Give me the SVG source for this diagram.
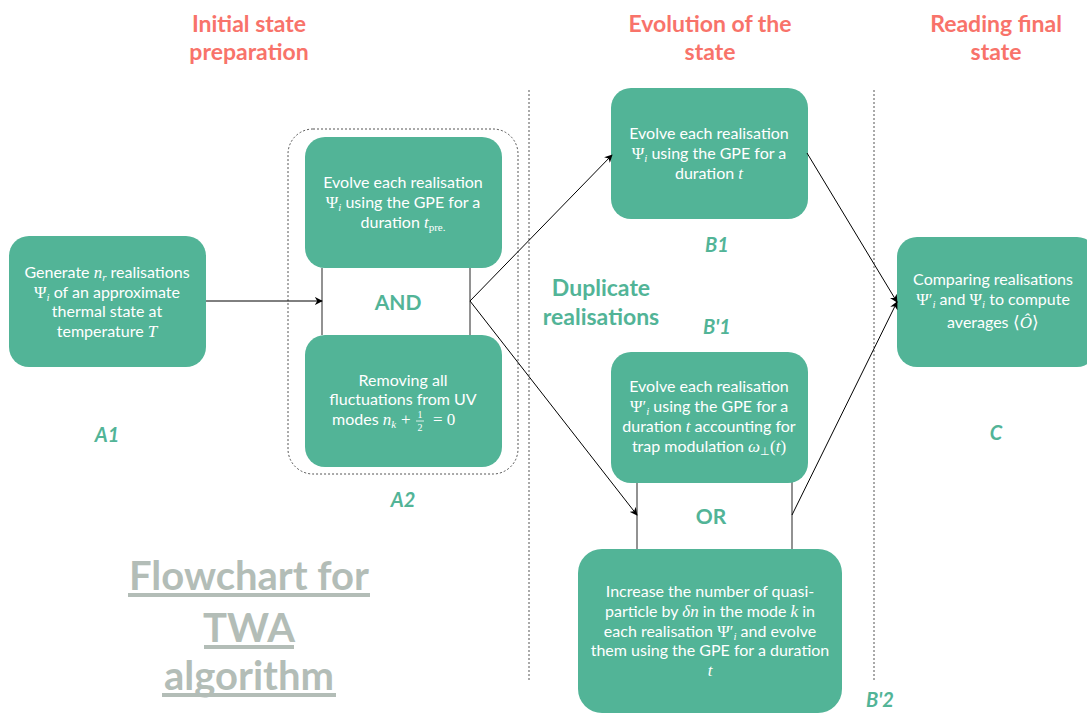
<svg xmlns="http://www.w3.org/2000/svg" width="1087" height="713" viewBox="0 0 1087 713">
<style>
.box{fill:#52B497;}
.bt{font-family:Lato,"Open Sans",sans-serif;font-size:16px;fill:#fff;text-anchor:middle;}
.bs{font-family:Lato,"Open Sans",sans-serif;font-size:16px;fill:#fff;}
.m{font-family:"Liberation Serif",serif;font-style:italic;font-size:17px;}
.mu{font-family:"Liberation Serif",serif;font-style:normal;font-size:17px;}
.sub{font-size:11px;}
.hdr{font-family:Lato,"Open Sans",sans-serif;font-weight:bold;font-size:23px;fill:#F8736A;text-anchor:middle;}
.lbl{font-family:Lato,"Open Sans",sans-serif;font-weight:bold;font-style:italic;font-size:20px;fill:#52B497;text-anchor:middle;}
.op{font-family:Lato,"Open Sans",sans-serif;font-weight:bold;font-size:21px;fill:#52B497;text-anchor:middle;}
.ttl{font-family:Lato,"Open Sans",sans-serif;font-weight:bold;font-size:40px;fill:#B3BDB7;text-anchor:middle;}
.sep{stroke:#555;stroke-width:1;stroke-dasharray:2,2;fill:none;}
.con{stroke:#000;stroke-width:1;fill:none;}
.bar{stroke:#777;stroke-width:1.6;}
</style>
<defs>
<marker id="ah" viewBox="0 0 10 10" refX="9" refY="5" markerWidth="8" markerHeight="8" orient="auto" markerUnits="userSpaceOnUse">
<path d="M0,0 L10,5 L0,10 L3,5 z" fill="#000"/>
</marker>
</defs>

<!-- headers -->
<g id="headers">
<text class="hdr" x="249" y="32">Initial state</text>
<text class="hdr" x="249" y="60">preparation</text>
<text class="hdr" x="710" y="32">Evolution of the</text>
<text class="hdr" x="710" y="60">state</text>
<text class="hdr" x="996" y="32">Reading final</text>
<text class="hdr" x="996" y="60">state</text>
</g>

<!-- separators -->
<g id="separators">
<line class="sep" x1="529" y1="90" x2="529" y2="680"/>
<line class="sep" x1="874" y1="90" x2="874" y2="680"/>
</g>

<!-- A1 -->
<g id="A1">
<rect class="box" x="9" y="236" width="197" height="131" rx="20"/>
<text class="bt" x="107" y="278">Generate <tspan class="m">n</tspan><tspan class="m sub" dy="3">r</tspan><tspan dy="-3"> realisations</tspan></text>
<text class="bt" x="107" y="298"><tspan class="mu">Ψ</tspan><tspan class="m sub" dy="3">i</tspan><tspan dy="-3"> of an approximate</tspan></text>
<text class="bt" x="107" y="317">thermal state at</text>
<text class="bt" x="107" y="337">temperature <tspan class="m">T</tspan></text>
<text class="lbl" x="107" y="442">A1</text>
</g>

<!-- A2 -->
<g id="A2">
<rect x="288" y="129" width="230" height="345" rx="25" class="sep"/>
<line class="bar" x1="322" y1="268" x2="322" y2="335"/>
<line class="bar" x1="470" y1="268" x2="470" y2="335"/>
<text class="op" x="398" y="310">AND</text>
<rect class="box" x="305" y="137" width="197" height="131" rx="20"/>
<text class="bt" x="403" y="188">Evolve each realisation</text>
<text class="bt" x="403" y="208"><tspan class="mu">Ψ</tspan><tspan class="m sub" dy="3">i</tspan><tspan dy="-3"> using the GPE for a</tspan></text>
<text class="bt" x="403" y="228">duration <tspan class="m">t</tspan><tspan class="mu sub" dy="3">pre.</tspan></text>
<rect class="box" x="305" y="335" width="197" height="132" rx="20"/>
<text class="bt" x="403" y="386">Removing all</text>
<text class="bt" x="403" y="405">fluctuations from UV</text>
<text class="bs" x="332" y="425">modes <tspan class="m">n</tspan><tspan class="m sub" dy="3">k</tspan></text>
<text class="bs" x="401" y="425"><tspan class="mu">+</tspan></text>
<text class="bs" x="420" y="418" text-anchor="middle"><tspan class="mu" style="font-size:10px">1</tspan></text>
<text class="bs" x="420" y="431" text-anchor="middle"><tspan class="mu" style="font-size:10px">2</tspan></text>
<line x1="416" y1="421" x2="424" y2="421" stroke="#fff" stroke-width="0.8"/>
<text class="bs" x="433" y="425"><tspan class="mu">= 0</tspan></text>
<text class="lbl" x="403" y="507">A2</text>
</g>

<!-- Duplicate realisations -->
<g id="duplicate">
<text class="op" x="601" y="296" style="font-size:23px">Duplicate</text>
<text class="op" x="601" y="325" style="font-size:23px">realisations</text>
</g>

<!-- B1 -->
<g id="B1">
<rect class="box" x="611" y="88" width="197" height="131" rx="20"/>
<text class="bt" x="709" y="139">Evolve each realisation</text>
<text class="bt" x="709" y="159"><tspan class="mu">Ψ</tspan><tspan class="m sub" dy="3">i</tspan><tspan dy="-3"> using the GPE for a</tspan></text>
<text class="bt" x="709" y="179">duration <tspan class="m">t</tspan></text>
<text class="lbl" x="717" y="252">B1</text>
</g>

<!-- B'1 -->
<g id="Bp1">
<text class="lbl" x="717" y="334">B'1</text>
<line class="bar" x1="637" y1="482" x2="637" y2="549"/>
<line class="bar" x1="792" y1="482" x2="792" y2="549"/>
<text class="op" x="711" y="524">OR</text>
<rect class="box" x="611" y="352" width="197" height="131" rx="20"/>
<text class="bt" x="709" y="392">Evolve each realisation</text>
<text class="bt" x="709" y="412"><tspan class="mu">Ψ′</tspan><tspan class="m sub" dy="3">i</tspan><tspan dy="-3"> using the GPE for a</tspan></text>
<text class="bt" x="709" y="432">duration <tspan class="m">t</tspan> accounting for</text>
<text class="bt" x="709" y="452">trap modulation <tspan class="m">ω</tspan><tspan class="mu sub" dy="3">⊥</tspan><tspan class="mu" dy="-3">(</tspan><tspan class="m">t</tspan><tspan class="mu">)</tspan></text>
</g>

<!-- B'2 -->
<g id="Bp2">
<rect class="box" x="578" y="549" width="264" height="164" rx="24"/>
<text class="bt" x="710" y="597">Increase the number of quasi-</text>
<text class="bt" x="710" y="617">particle by <tspan class="m">δn</tspan> in the mode <tspan class="m">k</tspan> in</text>
<text class="bt" x="710" y="637">each realisation <tspan class="mu">Ψ′</tspan><tspan class="m sub" dy="3">i</tspan><tspan dy="-3"> and evolve</tspan></text>
<text class="bt" x="710" y="656">them using the GPE for a duration</text>
<text class="bt" x="710" y="676"><tspan class="m">t</tspan></text>
<text class="lbl" x="880" y="707">B'2</text>
</g>

<!-- C -->
<g id="C">
<rect class="box" x="897" y="237" width="200" height="130" rx="20"/>
<text class="bt" x="993" y="285">Comparing realisations</text>
<text class="bt" x="993" y="305"><tspan class="mu">Ψ′</tspan><tspan class="m sub" dy="3">i</tspan><tspan dy="-3"> and </tspan><tspan class="mu">Ψ</tspan><tspan class="m sub" dy="3">i</tspan><tspan dy="-3"> to compute</tspan></text>
<text class="bt" x="993" y="328">averages <tspan class="mu">⟨</tspan><tspan class="m">Ô</tspan><tspan class="mu">⟩</tspan></text>
<text class="lbl" x="996" y="440">C</text>
</g>

<!-- title -->
<g id="title">
<text class="ttl" x="249" y="590">Flowchart for</text>
<text class="ttl" x="249" y="642">TWA</text>
<text class="ttl" x="249" y="690">algorithm</text>
<rect x="128" y="593" width="242" height="4" fill="#B3BDB7"/>
<rect x="204" y="645" width="90" height="4" fill="#B3BDB7"/>
<rect x="162" y="693" width="174" height="4" fill="#B3BDB7"/>
</g>

<!-- connectors -->
<g id="connectors">
<line class="con" x1="206" y1="301" x2="322" y2="301" marker-end="url(#ah)"/>
<line class="con" x1="470" y1="301" x2="612" y2="155" marker-end="url(#ah)"/>
<line class="con" x1="470" y1="301" x2="637" y2="515" marker-end="url(#ah)"/>
<line class="con" x1="807" y1="153" x2="897" y2="302" marker-end="url(#ah)"/>
<line class="con" x1="792" y1="515" x2="897" y2="302" marker-end="url(#ah)"/>
</g>
</svg>
